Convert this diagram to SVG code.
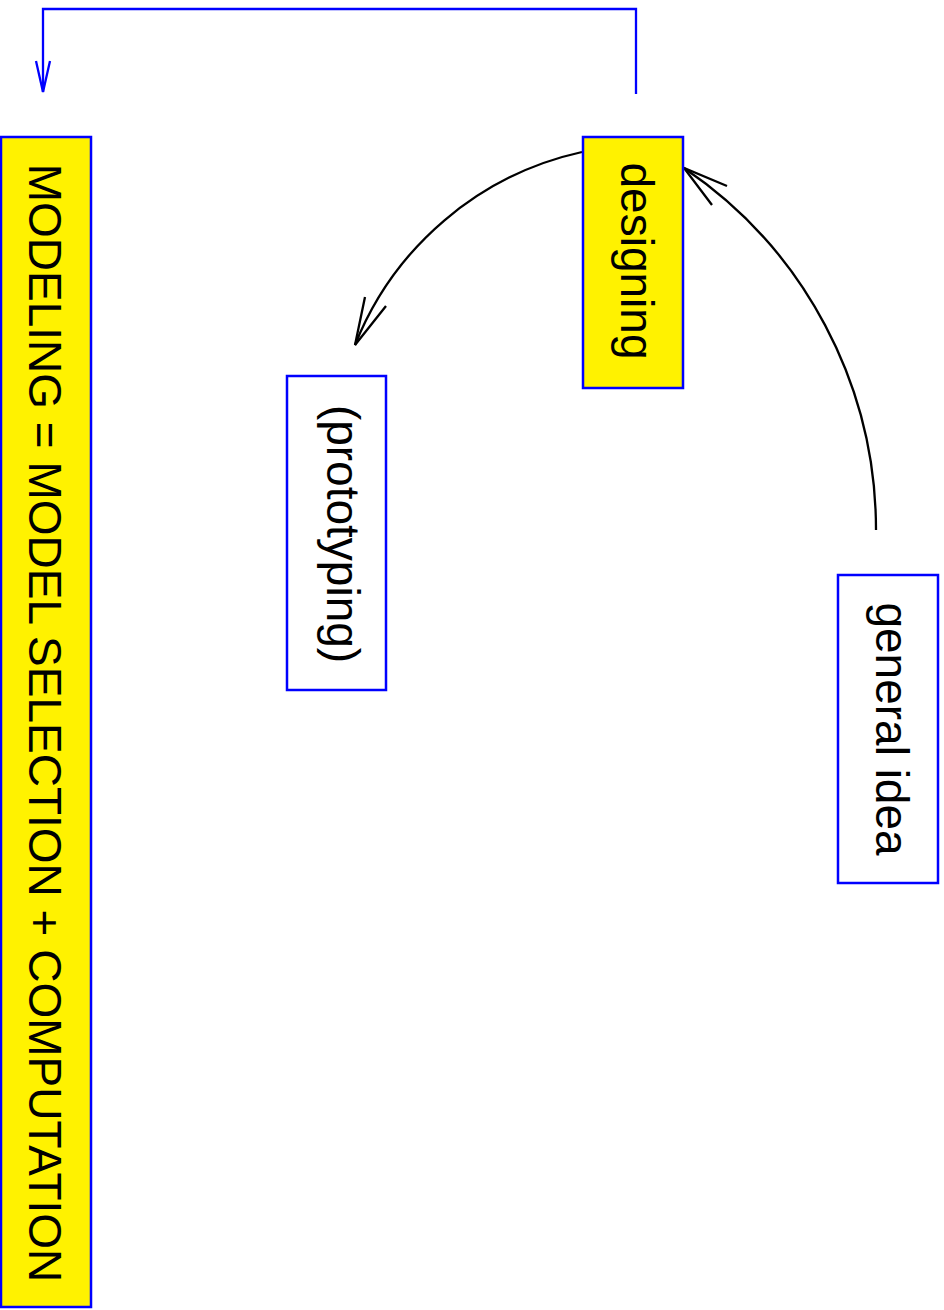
<svg xmlns="http://www.w3.org/2000/svg" width="944" height="1310" viewBox="0 0 944 1310">
  <style>
    .box { stroke: #0000ff; stroke-width: 2.5; }
    .hl { fill: #fff200; }
    .plain { fill: #ffffff; }
    .lbl { font-family: "Liberation Sans", Arial, Helvetica, sans-serif; font-size: 46px; fill: #000000; text-anchor: middle; }
    .wire { fill: none; stroke: #000000; stroke-width: 2.3; }
    .wire-blue { fill: none; stroke: #0000ff; stroke-width: 2.3; }
  </style>
  <rect width="944" height="1310" fill="#ffffff"/>

  <!-- connectors -->
  <g id="connectors">
    <!-- feedback loop from designing back to modeling -->
    <path class="wire-blue" d="M636,94 V9 H43 V92"/>
    <path class="wire-blue" d="M36,61 L43,92 L50,61"/>
    <!-- general idea to designing -->
    <path class="wire" d="M876,530 A437,437 0 0 0 684,168"/>
    <path class="wire" d="M727,186 L684,168 L712,205"/>
    <!-- designing to prototyping -->
    <path class="wire" d="M582,152 A318,318 0 0 0 355,345"/>
    <path class="wire" d="M365,297 L355,345 L386,306"/>
  </g>

  <!-- nodes -->
  <g id="modeling">
    <rect class="box hl" x="1" y="137" width="90" height="1170"/>
    <text class="lbl" transform="translate(29,723) rotate(90)">MODELING = MODEL SELECTION + COMPUTATION</text>
  </g>
  <g id="designing">
    <rect class="box hl" x="583" y="137" width="100" height="251"/>
    <text class="lbl" transform="translate(621,261) rotate(90)">designing</text>
  </g>
  <g id="prototyping">
    <rect class="box plain" x="287" y="376" width="99" height="314"/>
    <text class="lbl" transform="translate(327,534) rotate(90)">(prototyping)</text>
  </g>
  <g id="general-idea">
    <rect class="box plain" x="838" y="575" width="100" height="308"/>
    <text class="lbl" transform="translate(876,729) rotate(90)">general idea</text>
  </g>
</svg>
